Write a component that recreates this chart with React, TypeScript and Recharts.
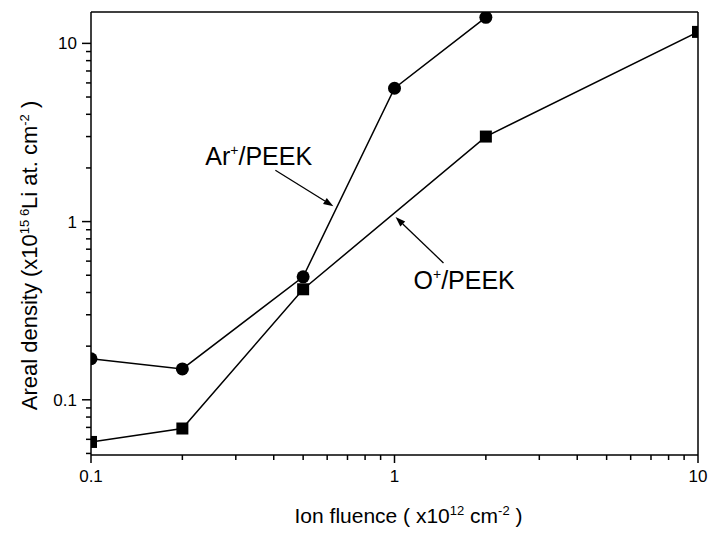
import React from "react";
import {
  LineChart,
  Line,
  XAxis,
  YAxis,
  ReferenceLine,
  ReferenceDot,
  Label,
} from "recharts";

// fluence (x10^12 cm^-2) vs areal density (x10^15 6Li at. cm^-2)
const arFluence = [0.1, 0.2, 0.5, 1, 2];
const arDensity = [0.17, 0.149, 0.49, 5.6, 14.0];
const oFluence = [0.1, 0.2, 0.5, 2, 10];
const oDensity = [0.058, 0.069, 0.417, 3.0, 11.6];

const xTicks = [0.1, 0.2, 0.3, 0.4, 0.5, 0.6, 0.7, 0.8, 0.9, 1, 2, 3, 4, 5, 6, 7, 8, 9, 10];
const yTicks = [
  0.05, 0.06, 0.07, 0.08, 0.09, 0.1, 0.2, 0.3, 0.4, 0.5, 0.6, 0.7, 0.8, 0.9, 1, 2, 3, 4, 5,
  6, 7, 8, 9, 10,
];
const xDomain = [0.1, 10];
const yDomain = [0.049, 15];

// annotation anchors, in data units
const arLabelAt = { x: 0.238, y: 2.07 };
const arArrow = [{ x: 0.405, y: 1.94 }, { x: 0.629, y: 1.22 }];
const oLabelAt = { x: 1.155, y: 0.419 };
const oArrow = [{ x: 1.45, y: 0.586 }, { x: 1.008, y: 1.06 }];

const arData = arFluence.map((x, i) => ({ x, y: arDensity[i] }));
const oData = oFluence.map((x, i) => ({ x, y: oDensity[i] }));

const FONT = "'Liberation Sans', Arial, Helvetica, sans-serif";

const isMajor = (v: number) => Math.abs(Math.log10(v) - Math.round(Math.log10(v))) < 1e-6;
const fmt = (v: number) => (v < 1 ? String(v) : String(Math.round(v)));

const XTick = (props: any) => {
  const { x, y, payload } = props;
  const major = isMajor(payload.value);
  return (
    <g>
      <line x1={x} x2={x} y1={y} y2={y + (major ? 8 : 5)} stroke="#000" strokeWidth={1.5} />
      {major && (
        <text x={x} y={y + 27} textAnchor="middle" fontSize={17} fontFamily={FONT} fill="#000">
          {fmt(payload.value)}
        </text>
      )}
    </g>
  );
};

const YTick = (props: any) => {
  const { x, y, payload } = props;
  const major = isMajor(payload.value);
  return (
    <g>
      <line x1={x - (major ? 9 : 5)} x2={x} y1={y} y2={y} stroke="#000" strokeWidth={1.5} />
      {major && (
        <text x={x - 14} y={y + 6} textAnchor="end" fontSize={17} fontFamily={FONT} fill="#000">
          {fmt(payload.value)}
        </text>
      )}
    </g>
  );
};

const XTitle = (props: any) => {
  const vb = props.viewBox;
  const cx = vb.x + vb.width / 2 + 14;
  const by = vb.y + 68;
  return (
    <text x={cx} y={by} textAnchor="middle" fontSize={21} fontFamily={FONT} fill="#000">
      Ion fluence ( x10
      <tspan dy={-8} fontSize={13}>12</tspan>
      <tspan dy={8}> cm</tspan>
      <tspan dy={-8} fontSize={13}>-2</tspan>
      <tspan dy={8}> )</tspan>
    </text>
  );
};

const YTitle = (props: any) => {
  const vb = props.viewBox;
  const bx = 37;
  const cy = vb.y + vb.height / 2 + 22;
  return (
    <text
      x={bx}
      y={cy}
      transform={`rotate(-90, ${bx}, ${cy})`}
      textAnchor="middle"
      fontSize={22}
      fontFamily={FONT}
      fill="#000"
    >
      Areal density (x10
      <tspan dy={-8} fontSize={13}>15 6</tspan>
      <tspan dy={8}>Li at. cm</tspan>
      <tspan dy={-8} fontSize={13}>-2</tspan>
      <tspan dy={8}> )</tspan>
    </text>
  );
};

const Arrow = (props: any) => {
  const { x1, y1, x2, y2 } = props;
  const a = Math.atan2(y2 - y1, x2 - x1);
  const len = 10;
  const w = 3.5;
  const bx = x2 - len * Math.cos(a);
  const by = y2 - len * Math.sin(a);
  const px = -Math.sin(a) * w;
  const py = Math.cos(a) * w;
  return (
    <g>
      <line x1={x1} y1={y1} x2={bx} y2={by} stroke="#000" strokeWidth={1.3} />
      <polygon points={`${x2},${y2} ${bx + px},${by + py} ${bx - px},${by - py}`} fill="#000" />
    </g>
  );
};

const annotation = (main: string) => (props: any) => (
  <text x={props.cx} y={props.cy} fontSize={25} fontFamily={FONT} fill="#000">
    {main}
    <tspan dy={-10} fontSize={14}>+</tspan>
    <tspan dy={10}>/PEEK</tspan>
  </text>
);

const CircleDot = (p: any) => <circle key={p.index} cx={p.cx} cy={p.cy} r={6.5} fill="#000" />;
const SquareDot = (p: any) => (
  <rect key={p.index} x={p.cx - 6} y={p.cy - 6} width={12} height={12} fill="#000" />
);

export default function App() {
  return (
    <div style={{ position: "absolute", left: 0, top: 0, background: "#fff" }}>
      <LineChart width={708} height={533} margin={{ top: 12, right: 10, bottom: 0, left: 0 }}>
        <XAxis
          type="number"
          dataKey="x"
          scale="log"
          domain={xDomain}
          ticks={xTicks}
          interval={0}
          allowDataOverflow
          height={78}
          tickSize={0}
          tickMargin={0}
          tickLine={false}
          tick={<XTick />}
          axisLine={{ stroke: "#000", strokeWidth: 1.5 }}
        >
          <Label content={<XTitle />} />
        </XAxis>
        <YAxis
          type="number"
          dataKey="y"
          scale="log"
          domain={yDomain}
          ticks={yTicks}
          interval={0}
          allowDataOverflow
          width={91}
          tickSize={0}
          tickMargin={0}
          tickLine={false}
          tick={<YTick />}
          axisLine={{ stroke: "#000", strokeWidth: 1.5 }}
        >
          <Label content={<YTitle />} />
        </YAxis>
        <ReferenceLine y={yDomain[1]} stroke="#000" strokeWidth={1.5} />
        <ReferenceLine x={xDomain[1]} stroke="#000" strokeWidth={1.5} />
        <Line
          data={arData}
          dataKey="y"
          type="linear"
          stroke="#000"
          strokeWidth={1.5}
          dot={CircleDot}
          isAnimationActive={false}
        />
        <Line
          data={oData}
          dataKey="y"
          type="linear"
          stroke="#000"
          strokeWidth={1.5}
          dot={SquareDot}
          isAnimationActive={false}
        />
        <ReferenceLine segment={arArrow} shape={Arrow} />
        <ReferenceLine segment={oArrow} shape={Arrow} />
        <ReferenceDot x={arLabelAt.x} y={arLabelAt.y} r={0} shape={annotation("Ar")} />
        <ReferenceDot x={oLabelAt.x} y={oLabelAt.y} r={0} shape={annotation("O")} />
      </LineChart>
    </div>
  );
}
